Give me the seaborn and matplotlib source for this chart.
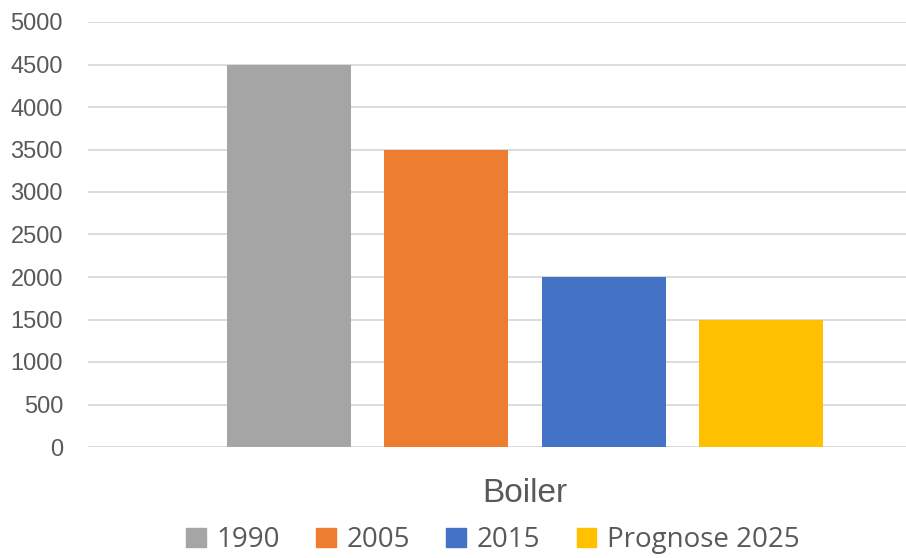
import matplotlib
matplotlib.use('Agg')
import matplotlib.pyplot as plt
import seaborn as sns
import pandas as pd

# data
categories = ['Boiler']
series = ['1990', '2005', '2015', 'Prognose 2025']
values = [4500, 3500, 2000, 1500]
colors = ['#a5a5a5', '#ed7d31', '#4472c4', '#ffc000']

df = pd.DataFrame({'kategorie': categories * len(series),
                   'serie': series,
                   'wert': values})

sns.set_theme(style='white')
plt.rcParams['font.family'] = ['Liberation Sans', 'DejaVu Sans']

W, H = 906, 558
fig = plt.figure(figsize=(W / 100, H / 100), dpi=100)
# plot area runs past the right edge like the original crop
ax = fig.add_axes([88 / W, (H - 447) / H, (962 - 88) / W, (447 - 22) / H])

sns.barplot(data=df, x='kategorie', y='wert', hue='serie', palette=colors,
            width=0.72, gap=0.21, saturation=1, linewidth=0, legend=False, ax=ax)

ax.set_xlim(-0.5, 0.5)
ax.set_ylim(0, 5000)
ax.set_yticks(range(0, 5001, 500))
ax.yaxis.grid(True, color='#d9d9d9', lw=1.3)
ax.set_axisbelow(True)
for s in ax.spines.values():
    s.set_visible(False)
ax.set_xlabel('')
ax.set_ylabel('')
ax.tick_params(axis='y', length=0, pad=18, labelsize=17, labelcolor='#595959')
ax.tick_params(axis='x', length=0, pad=22, labelsize=24, labelcolor='#595959')

handles = [plt.Rectangle((0, 0), 1, 1, color=c) for c in colors]
fig.legend(handles, series, loc='center', bbox_to_anchor=(493 / W, 1 - 540 / H),
           ncol=4, frameon=False, handlelength=0.7, handleheight=0.7,
           handletextpad=0.4, columnspacing=1.3,
           prop={'family': 'Open Sans', 'size': 20}, labelcolor='#595959')

fig.savefig('out.png', dpi=100)
